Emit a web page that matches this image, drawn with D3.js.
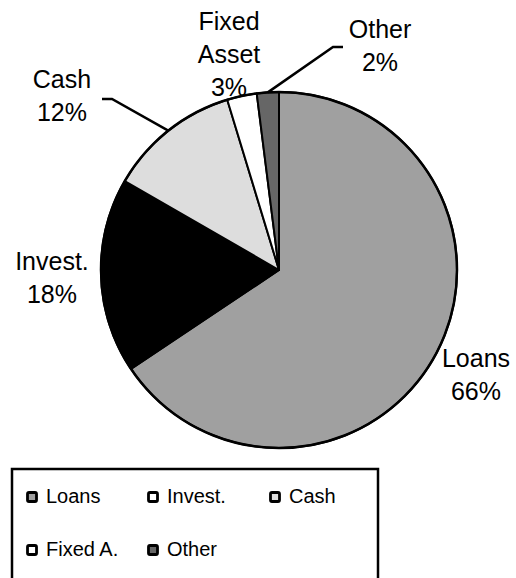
<!DOCTYPE html>
<meta charset="utf-8">
<html>
<head>
<style>
  body { margin: 0; background: #fff; }
  text { font-family: "Liberation Sans", Arial, sans-serif; fill: #000; }
  .lbl { font-size: 25px; }
  .leg { font-size: 20px; }
</style>
<script src="https://cdn.jsdelivr.net/npm/d3@7/dist/d3.min.js"></script>
</head>
<body>
<div id="chart"></div>
<script>
// data
var categories = ["Loans", "Invest.", "Cash", "Fixed Asset", "Other"];
var shares = [65.7, 17.7, 12.0, 2.7, 2.0];
var pctLabels = ["66%", "18%", "12%", "3%", "2%"];
var legendNames = ["Loans", "Invest.", "Cash", "Fixed A.", "Other"];
var sliceFill = ["#a0a0a0", "#000000", "#dddddd", "#ffffff", "#666666"];
var legendFill = ["#a0a0a0", "#ffffff", "#dddddd", "#ffffff", "#666666"];

var width = 516, height = 578;
var cx = 279, cy = 270, r = 178;

var svg = d3.select("#chart").append("svg")
  .attr("width", width)
  .attr("height", height);

var color = d3.scaleOrdinal().domain(categories).range(sliceFill);

var pie = d3.pie().sort(null).value(function(d) { return d.v; });
var arcs = pie(categories.map(function(c, i) { return {name: c, v: shares[i], i: i}; }));
var arc = d3.arc().innerRadius(0).outerRadius(r);

// label placement (name lines + percent), per slice
var labelPos = [
  {x: 476, y: 367, lines: ["Loans"]},
  {x: 52, y: 270, lines: ["Invest."]},
  {x: 62, y: 88, lines: ["Cash"]},
  {x: 229, y: 30, lines: ["Fixed", "Asset"]},
  {x: 380, y: 38, lines: ["Other"]}
];
var lineH = 33;

var labels = svg.append("g");
labelPos.forEach(function(p, i) {
  var t = labels.append("text").attr("class", "lbl")
    .attr("text-anchor", "middle");
  p.lines.concat([pctLabels[i]]).forEach(function(s, k) {
    t.append("tspan").attr("x", p.x).attr("y", p.y + k * lineH).text(s);
  });
});

var g = svg.append("g").attr("transform", "translate(" + cx + "," + cy + ")");

g.selectAll("path.slice")
  .data(arcs)
  .enter()
  .append("path")
  .attr("class", "slice")
  .attr("d", arc)
  .attr("fill", function(d) { return color(d.data.name); })
  .attr("stroke", "#000")
  .attr("stroke-width", 2)
  .attr("stroke-linejoin", "round");

// heavier outer rim
g.append("circle")
  .attr("r", r)
  .attr("fill", "none")
  .attr("stroke", "#000")
  .attr("stroke-width", 2.5);

// leader lines for Cash and Other
var leaders = [
  {i: 2, hx: 102, kx: 112, ky: 99},
  {i: 4, hx: 343, kx: 333, ky: 47}
];
leaders.forEach(function(l) {
  var a = arcs[l.i];
  var mid = (a.startAngle + a.endAngle) / 2;
  var px = cx + r * Math.sin(mid), py = cy - r * Math.cos(mid);
  svg.append("polyline")
    .attr("points", [[l.hx, l.ky], [l.kx, l.ky], [px, py]].map(function(p) { return p.join(","); }).join(" "))
    .attr("fill", "none")
    .attr("stroke", "#000")
    .attr("stroke-width", 2.5);
});

// legend
var legend = svg.append("g");
legend.append("rect")
  .attr("x", 12).attr("y", 469)
  .attr("width", 366).attr("height", 140)
  .attr("fill", "#fff")
  .attr("stroke", "#000")
  .attr("stroke-width", 2.5);

var colX = [26, 147, 269], rowY = [503, 556];
var items = legend.selectAll(".item")
  .data(legendNames)
  .enter()
  .append("g")
  .attr("class", "item")
  .attr("transform", function(d, i) {
    return "translate(" + colX[i % 3] + "," + rowY[Math.floor(i / 3)] + ")";
  });

items.append("rect")
  .attr("x", 1.5).attr("y", -10.5)
  .attr("width", 9).attr("height", 9)
  .attr("rx", 1.5)
  .attr("fill", function(d, i) { return legendFill[i]; })
  .attr("stroke", "#000")
  .attr("stroke-width", 2.8);

items.append("text")
  .attr("class", "leg")
  .attr("x", 20)
  .attr("y", 0)
  .text(function(d) { return d; });
</script>
</body>
</html>
